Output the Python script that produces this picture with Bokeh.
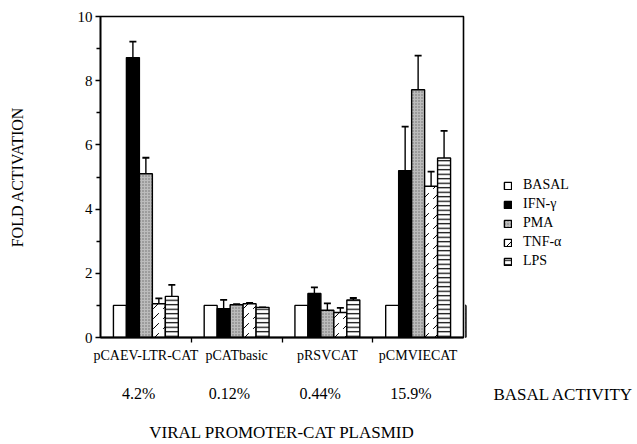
from bokeh.plotting import figure
from bokeh.layouts import row
from bokeh.models import (ColumnDataSource, Range1d, FixedTicker, Legend, LinearAxis,
                          LegendItem, Whisker, TeeHead)
from bokeh.embed import file_html
from bokeh.resources import INLINE

plasmids = ["pCAEV-LTR-CAT", "pCATbasic", "pRSVCAT", "pCMVIECAT"]
basal_activity = ["4.2%", "0.12%", "0.44%", "15.9%"]
treatments = ["BASAL", "IFN-\u03b3", "PMA", "TNF-\u03b1", "LPS"]

basal = [1.0, 1.0, 1.0, 1.0]
basal_err = [0.0, 0.0, 0.0, 0.0]
ifn = [8.72, 0.90, 1.37, 5.20]
ifn_err = [0.50, 0.27, 0.19, 1.37]
pma = [5.10, 1.02, 0.85, 7.72]
pma_err = [0.50, 0.02, 0.21, 1.06]
tnf = [1.05, 1.05, 0.78, 4.71]
tnf_err = [0.17, 0.03, 0.14, 0.46]
lps = [1.28, 0.94, 1.17, 5.59]
lps_err = [0.36, 0.0, 0.06, 0.85]

series = [basal, ifn, pma, tnf, lps]
errors = [basal_err, ifn_err, pma_err, tnf_err, lps_err]

styles = [
    dict(fill_color="white"),
    dict(fill_color="black"),
    dict(fill_color="#bcbcbc", hatch_pattern="dot", hatch_color="#6a6a6a", hatch_scale=3, hatch_weight=0.8),
    dict(fill_color="white", hatch_pattern="right_diagonal_dash", hatch_color="black", hatch_scale=10, hatch_weight=1),
    dict(fill_color="white", hatch_pattern="horizontal_line", hatch_color="black", hatch_scale=4.5, hatch_weight=1.2),
]

FONT = "Liberation Serif"
H = 444
W1 = 465
W2 = 637 - W1
TOP, BOTTOM = 16, 107

p = figure(width=W1, height=H, output_backend="svg", toolbar_location=None,
           x_range=Range1d(0, 4), y_range=Range1d(0, 10),
           min_border_left=100, min_border_right=2, min_border_top=TOP, min_border_bottom=BOTTOM)
p.xgrid.visible = False
p.ygrid.visible = False
p.outline_line_color = "black"
p.outline_line_width = 1.6
p.background_fill_color = "white"
p.border_fill_color = "white"

yax = p.yaxis[0]
yax.ticker = FixedTicker(ticks=[0, 2, 4, 6, 8, 10], minor_ticks=[1, 3, 5, 7, 9])
yax.major_tick_out = 5
yax.major_tick_in = 0
yax.minor_tick_out = 4
yax.minor_tick_in = 0
yax.axis_line_width = 1.6
yax.major_tick_line_width = 1.3
yax.minor_tick_line_width = 1.3
yax.major_label_text_font = FONT
yax.major_label_text_font_size = "15px"
yax.major_label_text_color = "black"
yax.major_label_standoff = 3
yax.axis_label = "FOLD ACTIVATION"
yax.axis_label_text_font = FONT
yax.axis_label_text_font_size = "16px"
yax.axis_label_text_font_style = "normal"
yax.axis_label_text_color = "black"
yax.axis_label_standoff = 49

centers = [k + 0.5 for k in range(len(plasmids))]

xax = p.xaxis[0]
xax.ticker = FixedTicker(ticks=centers, minor_ticks=[1, 2, 3])
xax.major_label_overrides = {c: name for c, name in zip(centers, plasmids)}
xax.major_tick_out = 0
xax.major_tick_in = 0
xax.minor_tick_out = 5
xax.minor_tick_in = 0
xax.axis_line_width = 2
xax.minor_tick_line_width = 1.3
xax.major_label_text_font = FONT
xax.major_label_text_font_size = "14px"
xax.major_label_text_color = "black"
xax.major_label_standoff = 5

pct_pos = [c - 0.08 for c in centers]
pax = LinearAxis(ticker=FixedTicker(ticks=pct_pos, minor_ticks=[]),
                 major_label_overrides={c: t for c, t in zip(pct_pos, basal_activity)},
                 axis_line_color=None, major_tick_line_color=None, minor_tick_line_color=None,
                 major_label_text_font=FONT, major_label_text_font_size="16px",
                 major_label_text_color="black", major_label_standoff=13,
                 axis_label="VIRAL PROMOTER-CAT PLASMID", axis_label_text_font=FONT,
                 axis_label_text_font_size="17px", axis_label_text_font_style="normal",
                 axis_label_text_color="black", axis_label_standoff=18)
p.add_layout(pax, "below")

w = 0.143
for i, (vals, errs, st) in enumerate(zip(series, errors, styles)):
    xs = [c + (i - 2) * w for c in centers]
    src = ColumnDataSource(dict(x=xs, top=vals, upper=[v + e for v, e in zip(vals, errs)]))
    p.vbar(x="x", top="top", width=w, bottom=0, source=src,
           line_color="black", line_width=1.4, **st)
    if any(e > 0 for e in errs):
        wk = Whisker(source=src, base="x", lower="top", upper="upper",
                     line_color="black", line_width=1.4, lower_head=None,
                     upper_head=TeeHead(size=7, line_width=1.8, line_color="black"))
        p.add_layout(wk)

# right-hand panel: legend and the "BASAL ACTIVITY" row caption
q = figure(width=W2, height=H, output_backend="svg", toolbar_location=None,
           x_range=Range1d(0, W2), y_range=Range1d(0, 10),
           x_axis_location=None, y_axis_location=None,
           min_border_left=0, min_border_right=0, min_border_top=TOP, min_border_bottom=BOTTOM)
q.xgrid.visible = False
q.ygrid.visible = False
q.outline_line_color = None
q.background_fill_color = "white"
q.border_fill_color = "white"

leg_renderers = []
for st in styles:
    r = q.vbar(x=[-100], top=[1], width=1, line_color="black", line_width=1.4, **st)
    leg_renderers.append(r)

legend = Legend(items=[LegendItem(label=t, renderers=[r]) for t, r in zip(treatments, leg_renderers)],
                location=(38, 68), glyph_width=9, glyph_height=9, label_height=9,
                label_text_font=FONT, label_text_font_size="14px", label_text_color="black",
                spacing=3, padding=0, margin=0, border_line_color=None, background_fill_alpha=0,
                label_standoff=11)
q.add_layout(legend, "center")

cap_x = 98
qax = LinearAxis(ticker=FixedTicker(ticks=[cap_x], minor_ticks=[]),
                 major_label_overrides={cap_x: "BASAL ACTIVITY"},
                 axis_line_color=None, major_tick_line_color=None, minor_tick_line_color=None,
                 major_label_text_font=FONT, major_label_text_font_size="17px",
                 major_label_text_color="black", major_label_standoff=41)
q.add_layout(qax, "below")

layout = row(p, q, spacing=0)
open("out.html", "w").write(file_html(layout, INLINE))
